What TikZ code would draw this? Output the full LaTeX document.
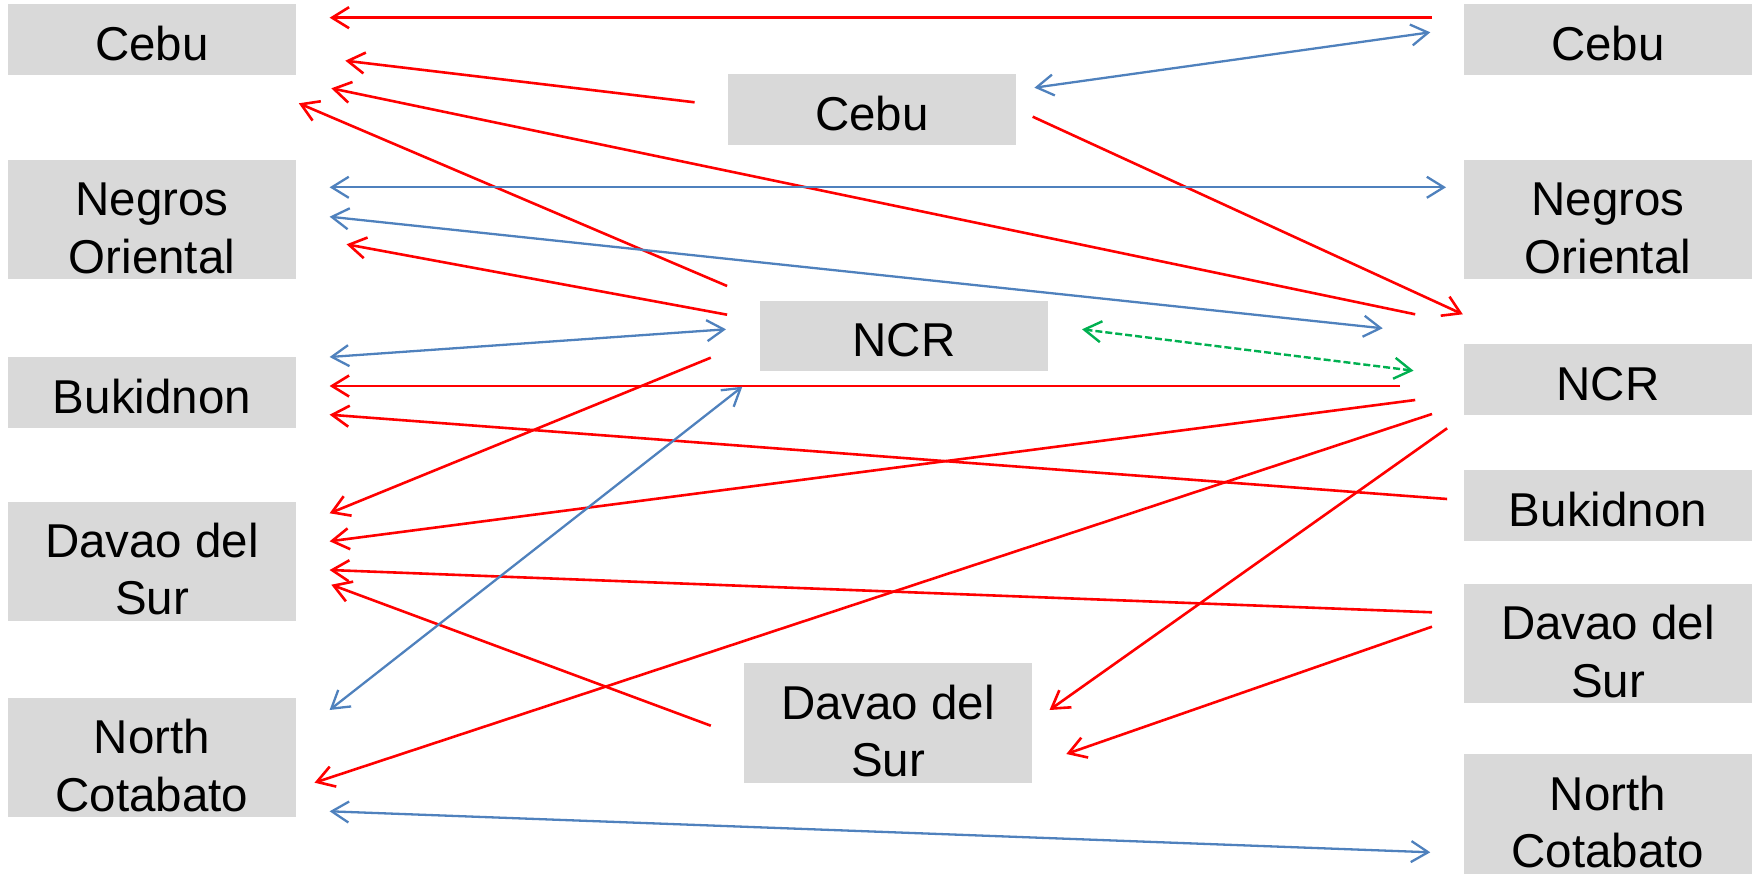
\documentclass[tikz,border=0pt]{standalone}
\usepackage{fontspec}
\setmainfont{Liberation Sans}
\usetikzlibrary{positioning, arrows.meta}
\definecolor{boxgray}{HTML}{D9D9D9}
\definecolor{linkblue}{HTML}{4F81BD}
\definecolor{linkgreen}{HTML}{00B050}

\begin{document}
\begin{tikzpicture}[
          x=1pt, y=-1pt,
          region/.style={fill=boxgray, minimum width=288pt, inner sep=0pt, align=center, font=\fontsize{47.5}{57.5}\selectfont},
          oneline/.style={region, minimum height=70.7pt, text height=42pt, text depth=0pt},
          twoline/.style={region, minimum height=119.3pt, text height=107pt, text depth=0pt},
          oneway/.style={-{Straight Barb[length=17pt, width=21pt]}, red, line width=2.6pt},
          twoway/.style={{Straight Barb[length=17pt, width=21pt]}-{Straight Barb[length=17pt, width=21pt]}, linkblue, line width=2.3pt},
          dashway/.style={twoway, linkgreen, line width=2.4pt, dash pattern=on 7pt off 3pt}
      ]
      \useasboundingbox (0,0) rectangle (1759,874);

      \node[oneline] (lcebu) at (152,39.3) {Cebu};
      \node[twoline] (lneg) at (152,219.7) {Negros\\Oriental};
      \node[oneline] (lbuk) at (152,392.3) {Bukidnon};
      \node[twoline] (ldav) at (152,561.3) {Davao del\\Sur};
      \node[twoline] (lnc) at (152,757.7) {North\\Cotabato};

      \node[oneline] (mcebu) at (872,109.3) {Cebu};
      \node[oneline] (mncr) at (904,336) {NCR};
      \node[twoline] (mdav) at (888,723) {Davao del\\Sur};

      \node[oneline] (rcebu) at (1608,39.3) {Cebu};
      \node[twoline] (rneg) at (1608,219.7) {Negros\\Oriental};
      \node[oneline] (rncr) at (1608,379.3) {NCR};
      \node[oneline] (rbuk) at (1608,505.3) {Bukidnon};
      \node[twoline] (rdav) at (1608,643.7) {Davao del\\Sur};
      \node[twoline] (rnc) at (1608,814) {North\\Cotabato};

      \draw[oneway] ([shift={(-31.8,-21.6)}]rcebu.west) -- ([shift={(33.4,-21.6)}]lcebu.east);
      \draw[oneway] ([shift={(-33.2,-7)}]mcebu.west) -- ([shift={(49.1,21.4)}]lcebu.east);
      \draw[oneway] ([shift={(-48.6,-65)}]rncr.west) -- ([shift={(35.1,49)}]lcebu.east);
      \draw[oneway] ([shift={(-32.7,-50)}]mncr.west) -- ([shift={(2.6,64)}]lcebu.east);
      \draw[oneway] ([shift={(16.5,7.4)}]mcebu.east) -- ([shift={(-1,-65)}]rncr.west);
      \draw[oneway] ([shift={(-32.7,-21.3)}]mncr.west) -- ([shift={(50.3,24.6)}]lneg.east);
      \draw[oneway] ([shift={(-63.8,6.7)}]rncr.west) -- ([shift={(33.4,-6.3)}]lbuk.east);
      \draw[oneway] ([shift={(-16.7,-6.3)}]rbuk.west) -- ([shift={(33.4,22.4)}]lbuk.east);
      \draw[oneway] ([shift={(-49,21.7)}]mncr.west) -- ([shift={(33.4,-48)}]ldav.east);
      \draw[oneway] ([shift={(-48.6,20.7)}]rncr.west) -- ([shift={(33.4,-20)}]ldav.east);
      \draw[oneway] ([shift={(-31.8,34.7)}]rncr.west) -- ([shift={(18.3,25)}]lnc.east);
      \draw[oneway] ([shift={(-16.7,49)}]rncr.west) -- ([shift={(17.3,-13)}]mdav.east);
      \draw[oneway] ([shift={(-31.8,-31.4)}]rdav.west) -- ([shift={(33.4,8.7)}]ldav.east);
      \draw[oneway] ([shift={(-33,2.7)}]mdav.west) -- ([shift={(35.1,23.4)}]ldav.east);
      \draw[oneway] ([shift={(-31.8,-17)}]rdav.west) -- ([shift={(34.1,31)}]mdav.east);

      \draw[twoway] ([shift={(-33.5,-7)}]rcebu.west) -- ([shift={(18.2,-21.6)}]mcebu.east);
      \draw[twoway] ([shift={(33.4,-32.4)}]lneg.east) -- ([shift={(-17.8,-32.4)}]rneg.west);
      \draw[twoway] ([shift={(33.4,-3)}]lneg.east) -- ([shift={(-81.1,-51)}]rncr.west);
      \draw[twoway] ([shift={(33.4,-35.3)}]lbuk.east) -- ([shift={(-33.8,-6.7)}]mncr.west);
      \draw[twoway] ([shift={(-17.5,50.7)}]mncr.west) -- ([shift={(33.4,-47.7)}]lnc.east);
      \draw[twoway] ([shift={(33.4,53.6)}]lnc.east) -- ([shift={(-33.5,38.3)}]rnc.west);

      \draw[dashway] ([shift={(33.8,-6.7)}]mncr.east) -- ([shift={(-50.3,-8.6)}]rncr.west);

      \end{tikzpicture}
\end{document}
